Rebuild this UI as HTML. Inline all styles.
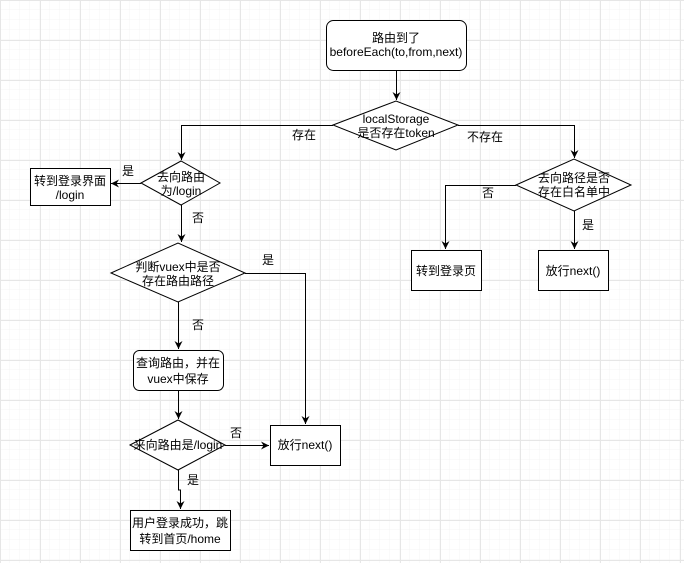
<!DOCTYPE html>
<html><head><meta charset="utf-8"><style>
html,body{margin:0;padding:0;background:#fff;}
body{width:684px;height:563px;overflow:hidden;}
svg text{font-family:"Liberation Sans","Noto Sans CJK SC",sans-serif;font-size:12px;fill:#000;}
</style></head><body>
<svg width="684" height="563" xmlns="http://www.w3.org/2000/svg">
<defs>
<pattern id="minor" width="10" height="10" patternUnits="userSpaceOnUse"><path d="M10 0V10M0 10H10" fill="none" stroke="#f4f4f4" stroke-width="1"/></pattern>
<pattern id="major" width="40" height="40" patternUnits="userSpaceOnUse"><rect width="40" height="40" fill="url(#minor)"/><path d="M0.5 0V40M0 0.5H40" fill="none" stroke="#e6e6e6" stroke-width="1"/></pattern>
<marker id="a" markerWidth="10" markerHeight="10" refX="8" refY="5" orient="auto" markerUnits="userSpaceOnUse"><path d="M0,1 L8,5 L0,9 L2.5,5 Z" fill="#000"/></marker>
</defs>
<rect width="684" height="563" fill="url(#major)"/>
<g fill="#fff" stroke="#000" stroke-width="1">
<rect x="326.5" y="20.5" width="140" height="50" rx="7"/>
<polygon points="333,125 396,101 458,125 396,150"/>
<polygon points="141,183 181,161 220,183 181,205"/>
<rect x="30.5" y="168.5" width="80" height="37"/>
<polygon points="111,273 178,243 245,273 178,302"/>
<rect x="133.5" y="350.5" width="90" height="40" rx="6"/>
<polygon points="130,445 178,420 225,445 178,470"/>
<rect x="270.5" y="425.5" width="70" height="40"/>
<rect x="130.5" y="510.5" width="100" height="40"/>
<polygon points="516,185 574,159 631,185 574,211"/>
<rect x="411.5" y="250.5" width="70" height="40"/>
<rect x="538.5" y="250.5" width="70" height="40"/>
</g>
<g fill="none" stroke="#000" stroke-width="1" marker-end="url(#a)">
<path d="M396.5 71V100"/>
<path d="M333 125.5H181.5V160"/>
<path d="M458 125.5H574.5V158"/>
<path d="M141 183.5H111"/>
<path d="M181.5 205V242"/>
<path d="M245 273.5H305.5V424"/>
<path d="M178.5 302V349"/>
<path d="M178.5 391V419"/>
<path d="M225 445.5H269"/>
<path d="M178.5 470V490H180.5V509"/>
<path d="M516 185.5H445.5V249"/>
<path d="M574.5 211V249"/>
</g>
<g text-anchor="middle">
<text x="396" y="42">路由到了</text>
<text x="396" y="56">beforeEach(to,from,next)</text>
<text x="396" y="123">localStorage</text>
<text x="396" y="137">是否存在token</text>
<text x="304" y="139">存在</text>
<text x="485" y="141">不存在</text>
<text x="181" y="181">去向路由</text>
<text x="181" y="195">为/login</text>
<text x="70" y="185">转到登录界面</text>
<text x="70" y="199">/login</text>
<text x="128" y="175">是</text>
<text x="198" y="222">否</text>
<text x="178" y="271">判断vuex中是否</text>
<text x="178" y="285">存在路由路径</text>
<text x="268" y="264">是</text>
<text x="198" y="329">否</text>
<text x="178" y="367">查询路由，并在</text>
<text x="178" y="383">vuex中保存</text>
<text x="178" y="449">来向路由是/login</text>
<text x="236" y="437">否</text>
<text x="305" y="449">放行next()</text>
<text x="193" y="484">是</text>
<text x="180" y="527">用户登录成功，跳</text>
<text x="180" y="543">转到首页/home</text>
<text x="574" y="182">去向路径是否</text>
<text x="574" y="196">存在白名单中</text>
<text x="488" y="197">否</text>
<text x="588" y="229">是</text>
<text x="446" y="275">转到登录页</text>
<text x="573" y="275">放行next()</text>
</g>
</svg>
</body></html>
